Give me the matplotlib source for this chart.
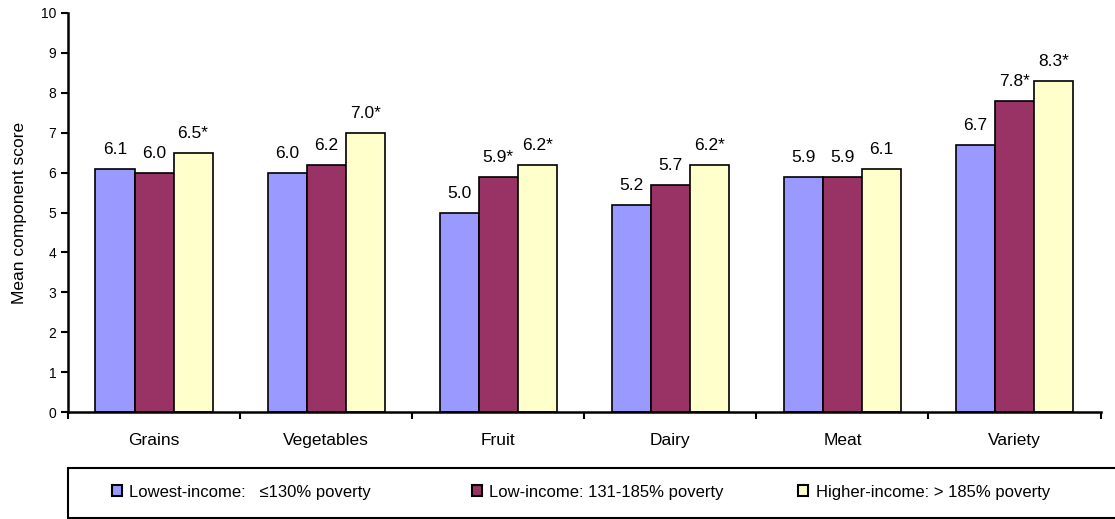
import matplotlib.pyplot as plt
import matplotlib.patches as mpatches
import numpy as np

plt.rcParams['font.family'] = ['Liberation Sans', 'DejaVu Sans']

categories = ["Grains", "Vegetables", "Fruit", "Dairy", "Meat", "Variety"]
groups = ["Lowest-income:   \u2264130% poverty",
          "Low-income: 131-185% poverty",
          "Higher-income: > 185% poverty"]
lowest = [6.1, 6.0, 5.0, 5.2, 5.9, 6.7]
low = [6.0, 6.2, 5.9, 5.7, 5.9, 7.8]
higher = [6.5, 7.0, 6.2, 6.2, 6.1, 8.3]
# significance flags for the value labels
low_sig = [False, False, True, False, False, True]
higher_sig = [True, True, True, True, False, True]
colors = ["#9999FF", "#993366", "#FFFFCC"]

fig = plt.figure(figsize=(11.15, 5.19), dpi=100)
ax = fig.add_axes([0.061, 0.206, 0.926, 0.769])

x = np.arange(len(categories))
w = 0.227
series = [(lowest, [False] * 6), (low, low_sig), (higher, higher_sig)]
for i, (vals, sig) in enumerate(series):
    pos = x + (i - 1) * w
    ax.bar(pos, vals, w, color=colors[i], edgecolor="black", linewidth=1.2, zorder=2)
    for px, v, s in zip(pos, vals, sig):
        ax.text(px, v + 0.3, "%.1f%s" % (v, "*" if s else ""), ha="center", va="bottom", fontsize=12.5)

ax.set_xlim(-0.5, len(categories) - 0.5)
ax.set_ylim(0, 10)
ax.set_yticks(range(0, 11))
ax.tick_params(axis="y", labelsize=10, length=5, width=1.5, direction="out")
ax.set_xticks(x)
ax.set_xticklabels(categories, fontsize=12.5)
ax.tick_params(axis="x", which="major", length=0, pad=15)
ax.set_xticks(np.arange(-0.5, len(categories), 1.0), minor=True)
ax.tick_params(axis="x", which="minor", length=5, width=1.5, direction="out")
for side in ["top", "right"]:
    ax.spines[side].set_visible(False)
for side in ["left", "bottom"]:
    ax.spines[side].set_linewidth(1.8)
ax.set_ylabel("Mean component score", fontsize=12.5, labelpad=10)

# legend frame, open on the right side
fig.patches.append(mpatches.Rectangle((0.061, 0.002), 0.96, 0.096, transform=fig.transFigure,
                                      facecolor="white", edgecolor="black", linewidth=1.5))
legend_x = [0.100, 0.423, 0.716]
for lx, c, g in zip(legend_x, colors, groups):
    h = mpatches.Patch(facecolor=c, edgecolor="black", linewidth=1.5)
    fig.legend([h], [g], loc="center left", bbox_to_anchor=(lx, 0.052), frameon=False,
               fontsize=12, handlelength=0.6, handleheight=0.6, handletextpad=0.45,
               borderpad=0, borderaxespad=0)

fig.savefig("out.png", dpi=100)
